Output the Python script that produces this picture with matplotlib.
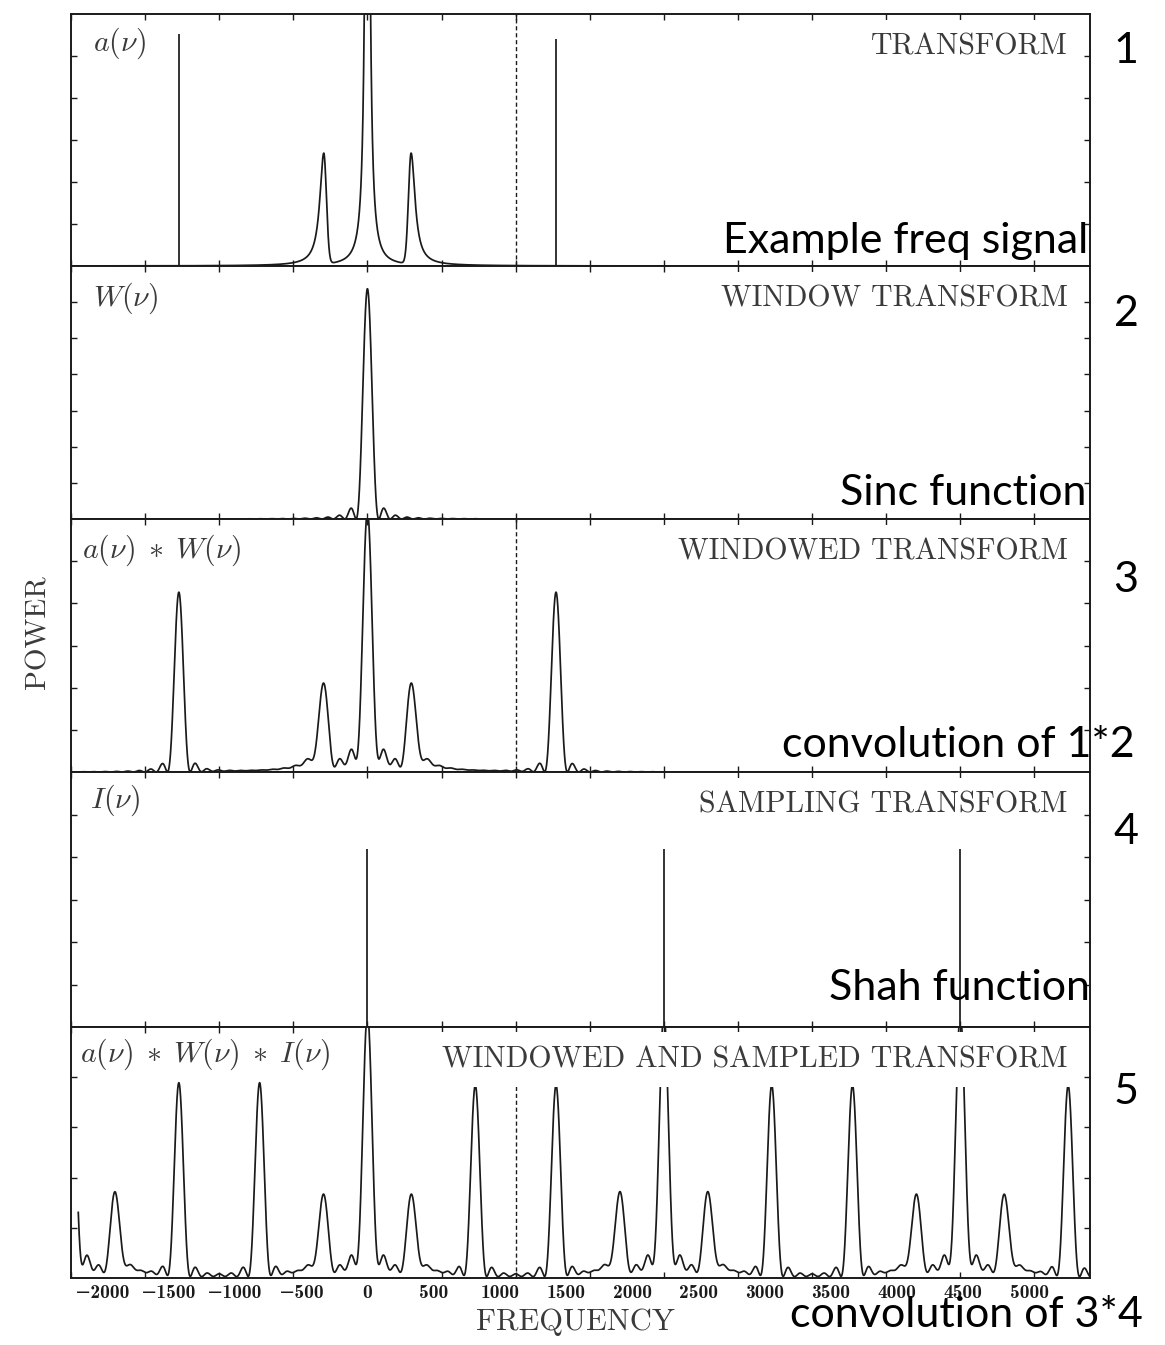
import numpy as np
import matplotlib.pyplot as plt

plt.rcParams['mathtext.fontset'] = 'cm'
plt.rcParams['axes.formatter.use_mathtext'] = True

# sampling of the example series
fs = 2240            # sampling frequency
f_nyq = fs / 2       # Nyquist frequency (dashed line)
w_null = 86          # first zero of the window transform W(nu)
f_lo, f_hi = -2185, 5460

# 1: a(nu) -- broadened lines at 0 and +-330, sharp lines at +-1425
a_freqs = [-330, 0, 330]
a_heights = [0.44, 3.0, 0.44]
a_left = [('lor', 36), ('lor', 17), ('gau', 20)]
a_right = [('gau', 20), ('lor', 17), ('lor', 36)]
spike_freqs = [-1425, 1425]
spike_heights = [0.92, 0.90]

# 2: W(nu)
w_height = 0.91

# 3: a * W
aw_freqs = [-1425, -330, 0, 330, 1425]
aw_heights = [0.71, 0.34, 1.03, 0.34, 0.71]
aw_kinds = ['line', 'side_l', 'centre', 'side_r', 'line']

# 4: I(nu)
comb_freqs = [0, 2240, 4480]
comb_heights = [0.70, 0.70, 0.70]

# 5: a * W * I
aws_freqs = [-2240, -1910, -1425, -815, -330, 0, 330, 815, 1425,
             1910, 2240, 2570, 3055, 3665, 4150, 4480, 4810, 5295]
aws_heights = [1.05, 0.33, 0.77, 0.77, 0.32, 1.05, 0.32, 0.76, 0.76,
               0.33, 1.05, 0.33, 0.76, 0.76, 0.32, 1.05, 0.32, 0.76]
aws_kinds = ['centre', 'side_r', 'line', 'line', 'side_l', 'centre', 'side_r', 'line', 'line',
             'side_l', 'centre', 'side_r', 'line', 'line', 'side_l', 'centre', 'side_r', 'line']

# pedestals under the windowed peaks: (relative height, decay width)
centre_shelf = (0.08, 120)
side_shelf = (0.22, 110)

panel_titles = ['TRANSFORM', 'WINDOW TRANSFORM', 'WINDOWED TRANSFORM',
                'SAMPLING TRANSFORM', 'WINDOWED AND SAMPLED TRANSFORM']
panel_funcs = [r'$a(\nu)$', r'$W(\nu)$', r'$a(\nu)\;\ast\;W(\nu)$',
               r'$I(\nu)$', r'$a(\nu)\;\ast\;W(\nu)\;\ast\;I(\nu)$']
notes = ['Example freq signal', 'Sinc function', 'convolution of 1*2',
         'Shah function', 'convolution of 3*4']
x_labels = np.arange(-2000, 5001, 500)

# ---------------------------------------------------------------------------
df = 1.0
nu = np.arange(f_lo, f_hi + df, df)
k = np.arange(-700, 701, df)
kernel = np.sinc(k / w_null) ** 2
kernel /= kernel.sum()


def half(x, kind, w):
    if kind == 'lor':
        return 1 / (1 + (x / w) ** 2)
    return np.exp(-0.5 * (x / w) ** 2)


def windowed_template(kind):
    x = np.arange(-1200, 1201, df)
    core = np.sinc(x / w_null) ** 2
    if kind == 'line':
        return x, core
    if kind == 'centre':
        h, w = centre_shelf
        ped = h / (1 + (x / w) ** 2)
    else:
        h, w = side_shelf
        sgn = 1 if kind == 'side_r' else -1
        ped = np.where(sgn * x > 0, h / (1 + (x / w) ** 2), 0.0)
    shape = core + np.convolve(ped, kernel, mode='same')
    return x, shape / shape.max()


templates = {kd: windowed_template(kd) for kd in ['line', 'centre', 'side_l', 'side_r']}


def windowed_curve(freqs, heights, kinds):
    y = np.zeros_like(nu)
    for f0, h, kd in zip(freqs, heights, kinds):
        x, t = templates[kd]
        y += h * np.interp(nu - f0, x, t, left=0, right=0)
    return y


a_curve = np.zeros_like(nu)
for f0, h, lt, rt in zip(a_freqs, a_heights, a_left, a_right):
    d = nu - f0
    a_curve += h * np.where(d < 0, half(d, *lt), half(d, *rt))

w_curve = w_height * np.sinc(nu / w_null) ** 2
aw_curve = windowed_curve(aw_freqs, aw_heights, aw_kinds)
aws_curve = windowed_curve(aws_freqs, aws_heights, aws_kinds)

# ---------------------------------------------------------------------------
W, H = 1165, 1345
fig = plt.figure(figsize=(W / 100, H / 100), dpi=100)
left, right = 71, 1090
edges = [14, 266, 519, 772, 1027, 1278]
n_yticks = [6, 7, 6, 6, 5]
ink = '#1a1a1a'
grey = '#3a3a3a'

axes = []
for i in range(5):
    top, bot = edges[i], edges[i + 1]
    ax = fig.add_axes([left / W, 1 - bot / H, (right - left) / W, (bot - top) / H])
    ax.set_xlim(f_lo, f_hi)
    ax.set_ylim(0, 1)
    ax.set_yticks(np.linspace(0, 1, n_yticks[i] + 1)[1:-1])
    ax.set_xticks(np.arange(-fs, f_hi, fs / 4), minor=True)
    ax.set_xticks([])
    ax.tick_params(which='both', direction='in', length=4, width=1, color=ink,
                   top=True, right=True, labelleft=False, labelbottom=False)
    for s in ax.spines.values():
        s.set_linewidth(1.4)
        s.set_color(ink)
    ax.text(0.978, 0.87, panel_titles[i], transform=ax.transAxes, ha='right', va='center',
            fontsize=21.5, family='cmr10', color=grey,
            bbox=dict(facecolor='white', edgecolor='none', boxstyle='square,pad=0.45'),
            zorder=5)
    axes.append(ax)

lw = 1.25
ax1, ax2, ax3, ax4, ax5 = axes

ax1.plot(nu, a_curve, color=ink, lw=lw)
ax1.vlines(spike_freqs, 0, spike_heights, color=ink, lw=lw)
ax1.axvline(f_nyq, color=ink, lw=1, ls=(0, (3, 2)))

ax2.plot(nu, w_curve, color=ink, lw=lw)

ax3.plot(nu, aw_curve, color=ink, lw=lw)
ax3.axvline(f_nyq, color=ink, lw=1, ls=(0, (3, 2)))

ax4.vlines(comb_freqs, 0, comb_heights, color=ink, lw=lw)

ax5.plot(nu, aws_curve, color=ink, lw=lw)
ax5.axvline(f_nyq, ymax=0.8, color=ink, lw=1, ls=(0, (3, 2)))
ax5.set_xticks(x_labels)
ax5.set_xticklabels([('%d' % v).replace('-', '\u2212') for v in x_labels],
                    family=['cmb10', 'DejaVu Serif'], fontsize=14)
ax5.tick_params(axis='x', which='major', length=0, labelbottom=True,
                pad=4, labelcolor=ink)

# function names in the top-left corners
func_x = [0.022, 0.022, 0.011, 0.019, 0.009]
func_y = [0.885, 0.874, 0.877, 0.89, 0.89]
for ax, lab, fx, fy in zip(axes, panel_funcs, func_x, func_y):
    ax.text(fx, fy, lab, transform=ax.transAxes, ha='left', va='center',
            fontsize=21.5, color=grey, zorder=5)

fig.text(38 / W, 1 - 632 / H, 'POWER', rotation=90, ha='center', va='center',
         fontsize=21, family='cmr10', color=grey)
fig.text(575 / W, 1 - 1322 / H, 'FREQUENCY', ha='center', va='center',
         fontsize=22, family='cmr10', color=grey)

# handwritten-style notes on the right
note_x = [1088, 1086, 1135, 1090, 1143]
note_y = [253, 505, 757, 1000, 1327]
for txt, nx, ny in zip(notes, note_x, note_y):
    fig.text(nx / W, 1 - ny / H, txt, ha='right', va='baseline',
             fontsize=31, family='Lato', color='black', zorder=10)

num_y = [63, 326, 592, 844, 1104]
for i, ny in enumerate(num_y):
    fig.text(1126 / W, 1 - ny / H, str(i + 1), ha='center', va='baseline',
             fontsize=31, family='Lato', color='black')

fig.savefig('out.png', dpi=100)
